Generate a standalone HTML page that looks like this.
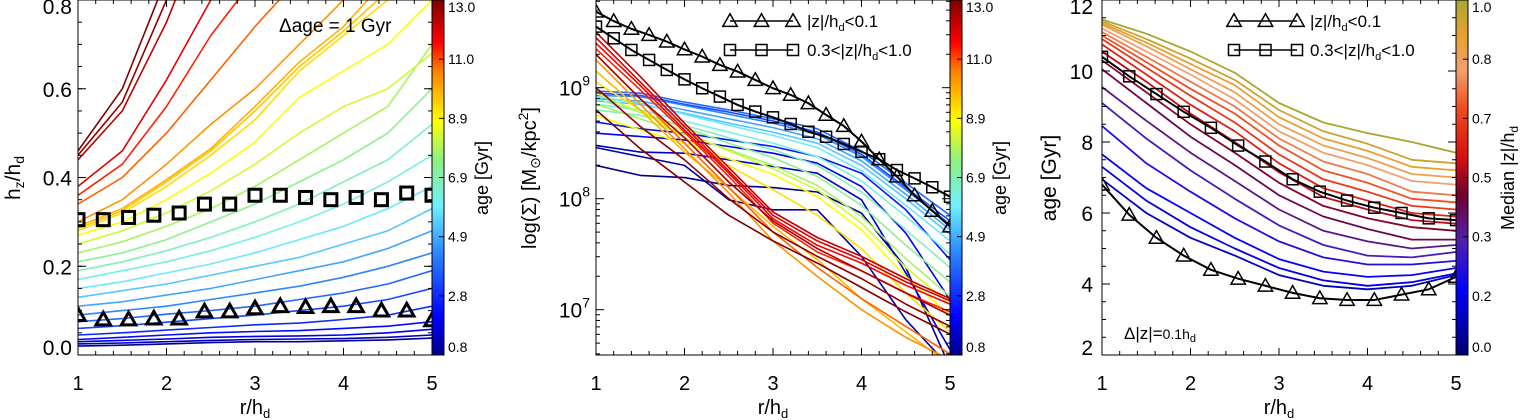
<!DOCTYPE html>
<html><head><meta charset="utf-8"><style>
body{margin:0;background:#fff}
svg{display:block;font-family:"Liberation Sans",sans-serif}
</style></head><body>
<svg id="fig" width="1535" height="420" viewBox="0 0 1535 420" xmlns="http://www.w3.org/2000/svg">
<defs>
<linearGradient id="jet" x1="0" y1="1" x2="0" y2="0">
<stop offset="0" stop-color="#00008f"/><stop offset="0.11" stop-color="#0000ff"/><stop offset="0.3" stop-color="#3090ff"/><stop offset="0.42" stop-color="#70f0ff"/><stop offset="0.55" stop-color="#90f080"/><stop offset="0.66" stop-color="#ffff00"/><stop offset="0.8" stop-color="#ff8000"/><stop offset="0.88" stop-color="#ff0000"/><stop offset="1" stop-color="#800000"/>
</linearGradient>
<linearGradient id="zmap" x1="0" y1="1" x2="0" y2="0">
<stop offset="0" stop-color="#000070"/><stop offset="0.18" stop-color="#0000ff"/><stop offset="0.32" stop-color="#5020b0"/><stop offset="0.45" stop-color="#700030"/><stop offset="0.56" stop-color="#d81010"/><stop offset="0.7" stop-color="#ee5020"/><stop offset="0.8" stop-color="#f0a070"/><stop offset="0.9" stop-color="#e8a030"/><stop offset="1" stop-color="#a8a830"/>
</linearGradient>
<clipPath id="c1"><rect x="78" y="0" width="354" height="355"/></clipPath>
<clipPath id="c2"><rect x="596" y="0" width="354" height="355"/></clipPath>
<clipPath id="c3"><rect x="1102" y="0" width="354" height="355"/></clipPath>
</defs>
</svg>
<script>
// ---------- data ----------
const rGrid = [1,1.5,2,2.5,3,3.5,4,4.5,5];
const markerR = [1,1.2857,1.5714,1.8571,2.1429,2.4286,2.7143,3,3.2857,3.5714,3.8571,4.1429,4.4286,4.7143,5];
const p1Ages = [0.8,1.3,1.8,2.3,2.8,3.3,3.8,4.3,4.8,5.3,5.8,6.3,6.8,7.3,7.8,8.3,8.8,9.3,9.6,9.9,10.3,10.8,11.3,11.8,12.3,12.8,13.0];
const p1Vals = [
[0.02,0.022,0.025,0.028,0.03,0.03,0.032,0.034,0.038],
[0.025,0.027,0.03,0.033,0.035,0.036,0.037,0.04,0.045],
[0.03,0.033,0.036,0.04,0.042,0.043,0.045,0.05,0.058],
[0.035,0.04,0.045,0.05,0.053,0.055,0.06,0.065,0.075],
[0.045,0.05,0.056,0.062,0.068,0.072,0.08,0.09,0.11],
[0.06,0.066,0.074,0.082,0.09,0.1,0.11,0.125,0.15],
[0.075,0.082,0.092,0.1,0.11,0.125,0.14,0.16,0.19],
[0.09,0.1,0.11,0.125,0.14,0.155,0.175,0.2,0.23],
[0.11,0.12,0.135,0.15,0.17,0.19,0.21,0.24,0.28],
[0.13,0.145,0.16,0.18,0.2,0.22,0.25,0.28,0.33],
[0.15,0.165,0.185,0.205,0.23,0.26,0.29,0.33,0.38],
[0.17,0.19,0.21,0.235,0.265,0.3,0.34,0.39,0.45],
[0.19,0.21,0.235,0.265,0.3,0.34,0.39,0.44,0.52],
[0.21,0.23,0.26,0.3,0.34,0.39,0.44,0.5,0.6],
[0.23,0.255,0.29,0.33,0.38,0.44,0.5,0.56,0.7],
[0.25,0.28,0.32,0.37,0.43,0.5,0.56,0.6,0.68],
[0.27,0.3,0.35,0.41,0.48,0.58,0.64,0.7,0.8],
[0.28,0.32,0.38,0.45,0.53,0.64,0.72,0.8,0.85],
[0.285,0.325,0.39,0.46,0.55,0.65,0.73,0.82,0.9],
[0.29,0.33,0.395,0.465,0.56,0.66,0.74,0.85,0.95],
[0.3,0.35,0.43,0.52,0.6,0.7,0.8,0.9,1.0],
[0.34,0.4,0.5,0.62,0.74,0.85,1.0,1.0,1.0],
[0.36,0.43,0.56,0.72,0.85,1.0,1.0,1.0,1.0],
[0.38,0.46,0.62,0.8,1.0,1.0,1.0,1.0,1.0],
[0.44,0.55,0.75,1.0,1.0,1.0,1.0,1.0,1.0],
[0.45,0.57,0.8,1.0,1.0,1.0,1.0,1.0,1.0],
[0.46,0.6,0.85,1.0,1.0,1.0,1.0,1.0,1.0]];
const p1Squares = [0.305,0.305,0.31,0.315,0.32,0.34,0.34,0.36,0.36,0.355,0.35,0.355,0.35,0.365,0.36];
const p1Triangles = [0.09,0.08,0.08,0.082,0.082,0.098,0.098,0.105,0.11,0.108,0.11,0.11,0.1,0.1,0.078];
const p2Ages = [0.8,1.1,1.5,2.0,2.5,3.3,3.8,4.3,4.8,5.3,5.8,6.3,6.8,7.3,7.8,8.3,8.8,9.3,9.8,10.3,10.8,11.3,11.6,11.9,12.2,12.5,12.8,13.0];
const p2Vals = [
[8.30,8.21,8.19,8.12,8.10,8.06,7.87,7.38,6.48],
[8.46,8.38,8.30,7.99,7.90,7.90,7.48,6.91,6.48],
[8.48,8.42,8.41,8.35,8.29,8.23,7.99,7.33,6.64],
[8.59,8.56,8.53,8.47,8.41,8.32,8.11,7.69,7.09],
[8.69,8.63,8.59,8.53,8.47,8.38,8.23,7.90,7.45],
[8.95,8.93,8.85,8.78,8.70,8.60,8.40,8.10,7.80],
[8.97,8.95,8.87,8.80,8.72,8.63,8.43,8.14,7.85],
[8.93,8.92,8.84,8.76,8.68,8.58,8.38,8.08,7.77],
[8.90,8.88,8.80,8.72,8.64,8.54,8.34,8.04,7.72],
[8.88,8.85,8.77,8.68,8.60,8.50,8.30,8.00,7.68],
[8.92,8.86,8.76,8.66,8.57,8.46,8.25,7.94,7.62],
[8.85,8.80,8.70,8.60,8.50,8.38,8.16,7.84,7.50],
[8.80,8.75,8.66,8.55,8.44,8.30,8.06,7.72,7.38],
[8.90,8.78,8.64,8.50,8.37,8.20,7.94,7.58,7.25],
[8.85,8.72,8.58,8.44,8.30,8.12,7.84,7.46,7.12],
[8.95,8.78,8.60,8.43,8.27,8.08,7.78,7.38,7.05],
[8.75,8.62,8.50,8.36,8.22,8.02,7.72,7.30,6.95],
[9.05,8.80,8.55,8.30,8.08,7.85,7.55,7.15,6.80],
[9.15,8.80,8.42,8.10,7.75,7.45,7.10,6.80,6.50],
[9.25,8.85,8.45,8.05,7.62,7.30,7.00,6.75,6.55],
[9.30,8.90,8.50,8.10,7.70,7.38,7.10,6.85,6.60],
[9.35,8.98,8.60,8.20,7.78,7.52,7.35,7.15,6.98],
[9.40,9.02,8.62,8.23,7.82,7.58,7.42,7.22,7.05],
[9.45,9.05,8.65,8.25,7.85,7.62,7.45,7.25,7.08],
[9.50,9.10,8.68,8.28,7.88,7.65,7.48,7.28,7.10],
[9.30,8.90,8.55,8.15,7.80,7.55,7.35,7.15,6.95],
[9.00,8.65,8.35,8.00,7.70,7.48,7.28,7.05,6.85],
[8.80,8.45,8.15,7.85,7.62,7.42,7.20,6.98,6.78]];
const p2MarkR = [1,1.2,1.4,1.6,1.8,2,2.2,2.4,2.6,2.8,3,3.2,3.4,3.6,3.8,4,4.2,4.4,4.6,4.8,5];
const p2Triangles = [9.685,9.60,9.53,9.475,9.415,9.345,9.28,9.205,9.145,9.07,8.995,8.935,8.86,8.755,8.655,8.515,8.355,8.2,8.03,7.89,7.75];
const p2Squares = [9.55,9.445,9.34,9.25,9.16,9.075,8.995,8.92,8.845,8.785,8.733,8.673,8.603,8.558,8.493,8.423,8.355,8.258,8.183,8.103,8.018];
const p3Z = [1.0,0.95,0.9,0.85,0.8,0.75,0.7,0.65,0.6,0.53,0.47,0.42,0.36,0.3,0.24,0.19,0.14,0.1];
const p3Vals = [
[11.45,11.05,10.55,9.95,9.1,8.55,8.25,8.0,7.7],
[11.4,10.9,10.35,9.75,8.9,8.3,7.95,7.5,7.4],
[11.35,10.8,10.2,9.6,8.7,8.1,7.75,7.3,7.2],
[11.3,10.7,10.05,9.4,8.5,7.9,7.55,7.1,7.0],
[11.2,10.55,9.9,9.2,8.3,7.7,7.35,6.9,6.8],
[11.1,10.4,9.7,9.0,8.1,7.45,7.1,6.6,6.5],
[11.0,10.25,9.5,8.8,7.9,7.2,6.85,6.4,6.3],
[10.9,10.1,9.3,8.55,7.65,6.95,6.6,6.2,6.1],
[10.75,9.9,9.05,8.3,7.4,6.7,6.35,6.0,5.9],
[10.55,9.7,8.8,8.0,7.15,6.45,6.1,5.8,5.7],
[10.3,9.4,8.5,7.7,6.85,6.2,5.85,5.6,5.5],
[10.05,9.1,8.15,7.35,6.5,5.9,5.55,5.25,5.25],
[9.55,8.6,7.7,6.9,6.1,5.5,5.2,5.0,5.1],
[9.1,8.1,7.2,6.4,5.65,5.1,4.8,4.75,4.9],
[8.45,7.4,6.6,5.85,5.2,4.75,4.55,4.55,4.65],
[7.65,6.7,6.0,5.3,4.7,4.35,4.2,4.25,4.45],
[7.3,6.35,5.6,5.0,4.45,4.1,3.95,4.05,4.3],
[6.95,6.0,5.3,4.8,4.25,3.95,3.85,3.95,4.25]];
const p3MarkR = [1,1.3077,1.6154,1.9231,2.2308,2.5385,2.8462,3.1538,3.4615,3.7692,4.0769,4.3846,4.6923,5];
const p3Triangles = [6.8,5.95,5.3,4.8,4.4,4.15,3.95,3.75,3.6,3.55,3.55,3.7,3.85,4.2];
const p3Squares = [10.4,9.85,9.35,8.85,8.4,7.9,7.45,6.95,6.6,6.35,6.15,6.0,5.85,5.8];

// ---------- helpers ----------
const svg = document.getElementById('fig');
const NS = 'http://www.w3.org/2000/svg';
function mk(tag, attrs, parent){const e=document.createElementNS(NS,tag);for(const k in attrs)e.setAttribute(k,attrs[k]);(parent||svg).appendChild(e);return e;}
function lerpHex(a,b,t){const pa=[1,3,5].map(i=>parseInt(a.substr(i,2),16)),pb=[1,3,5].map(i=>parseInt(b.substr(i,2),16));return 'rgb('+pa.map((v,i)=>Math.round(v+(pb[i]-v)*t)).join(',')+')';}
function cmap(stops,t){t=Math.max(0,Math.min(1,t));for(let i=1;i<stops.length;i++){if(t<=stops[i][0]){const s=stops[i-1],e=stops[i];return lerpHex(s[1],e[1],(t-s[0])/(e[0]-s[0]));}}return stops[stops.length-1][1];}
const jetStops=[[0,'#00008f'],[0.11,'#0000ff'],[0.3,'#3090ff'],[0.42,'#70f0ff'],[0.55,'#90f080'],[0.66,'#ffff00'],[0.8,'#ff8000'],[0.88,'#ff0000'],[1,'#800000']];
const zStops=[[0,'#000070'],[0.18,'#0000ff'],[0.32,'#5020b0'],[0.45,'#700030'],[0.56,'#d81010'],[0.7,'#ee5020'],[0.8,'#f0a070'],[0.9,'#e8a030'],[1,'#a8a830']];
function xs(x0){return r=>x0+(r-1)/4*354;}

function axesFrame(x0, yTicks, yMinor, yS, labelFmt, namePrefix){
  const g=mk('g',{});
  
  
  const X=xs(x0);
  for(let v=1;v<=5.0001;v+=0.2){const px=X(v);const major=Math.abs(v-Math.round(v))<1e-6;const L=major?7:4;
    mk('line',{x1:px,y1:355,x2:px,y2:355-L,stroke:'#000','stroke-width':1},g);
    mk('line',{x1:px,y1:0,x2:px,y2:L,stroke:'#000','stroke-width':1},g);}
  [1,2,3,4,5].forEach(v=>{const t=mk('text',{x:X(v),y:390,'font-size':20,'text-anchor':'middle'},g);t.textContent=v;
    
    });
  yMinor.forEach(v=>{const py=yS(v);if(py<-0.5||py>355.5)return;
    mk('line',{x1:x0,y1:py,x2:x0+4,y2:py,stroke:'#000','stroke-width':1},g);
    mk('line',{x1:x0+354,y1:py,x2:x0+350,y2:py,stroke:'#000','stroke-width':1},g);});
  yTicks.forEach(v=>{const py=yS(v);
    mk('line',{x1:x0,y1:py,x2:x0+8,y2:py,stroke:'#000','stroke-width':1},g);
    mk('line',{x1:x0+354,y1:py,x2:x0+346,y2:py,stroke:'#000','stroke-width':1},g);
    labelFmt(v,py,g);});
  const xt=mk('text',{x:x0+177,y:414,'font-size':20,'text-anchor':'middle'},g);
  xt.innerHTML='r/h<tspan font-size="13" dy="4">d</tspan>';
  
  
}
function lineSet(clip, X, Y, xsArr, series, colors, width, name){
  const g=mk('g',{'clip-path':'url(#'+clip+')'});
  
  
  series.forEach((vals,i)=>{const pts=vals.map((v,j)=>X(xsArr[j]).toFixed(1)+','+Y(v).toFixed(1)).join(' ');
    const pl=mk('polyline',{points:pts,fill:'none',stroke:colors[i],'stroke-width':width,'stroke-linejoin':'round'},g);
    
    });
  return g;
}
function markers(clip, X, Y, xsArr, vals, shape, size, sw, connect, name){
  const g=mk('g',{'clip-path':'url(#'+clip+')'});
  
  
  if(connect) mk('polyline',{points:vals.map((v,j)=>X(xsArr[j])+','+Y(v)).join(' '),fill:'none',stroke:'#000','stroke-width':2},g);
  vals.forEach((v,j)=>{drawMarker(g,X(xsArr[j]),Y(v),shape,size,sw);});
}
function drawMarker(g,cx,cy,shape,size,sw){
  let m;
  if(shape==='sq') m=mk('rect',{x:cx-size/2,y:cy-size/2,width:size,height:size,fill:'none',stroke:'#000','stroke-width':sw},g);
  else m=mk('polygon',{points:`${cx},${cy-size*0.6} ${cx-size*0.6},${cy+size*0.45} ${cx+size*0.6},${cy+size*0.45}`,fill:'none',stroke:'#000','stroke-width':sw},g);
  
  
}
function colorbar(x, grad, labels, title, name, titleX){
  const g=mk('g',{});
  
  
  mk('rect',{x:x,y:0,width:12,height:355,fill:'url(#'+grad+')',stroke:'#000','stroke-width':1},g);
  labels.forEach((lab,i)=>{const py=355-i*(355/(labels.length-1));
    mk('line',{x1:x+12,y1:py,x2:x+7,y2:py,stroke:'#000','stroke-width':1},g);
    const t=mk('text',{x:x+16,y:Math.min(352,Math.max(12,py+5)),'font-size':14},g);t.textContent=lab;
    
    });
  const tt=mk('text',{x:titleX,y:178,'font-size':18,'text-anchor':'middle',transform:`rotate(-90 ${titleX} 178)`},g);
  tt.innerHTML=title;
  
  
}
function legend(xa,xb,xt,name){
  const g=mk('g',{});
  
  
  [[21,'tri','|z|/h<tspan font-size="11" dy="4">d</tspan><tspan dy="-4">&lt;0.1</tspan>'],[50,'sq','0.3&lt;|z|/h<tspan font-size="11" dy="4">d</tspan><tspan dy="-4">&lt;1.0</tspan>']].forEach(([y,sh,txt])=>{
    mk('line',{x1:xa,y1:y,x2:xb,y2:y,stroke:'#000','stroke-width':1.5},g);
    [xa,(xa+xb)/2,xb].forEach(x=>drawMarker(g,x,y,sh,sh==='sq'?11:12,1.5));
    const t=mk('text',{x:xt,y:y+6,'font-size':17},g);t.innerHTML=txt;
    
    
  });
}

// ---------- panel 1 ----------
{
const X=xs(78), Y=v=>355-v/0.8*355;
const cols=p1Ages.map(a=>cmap(jetStops,(a-0.8)/12.2));
lineSet('c1',X,Y,rGrid,p1Vals,cols,1.6,'p1-age-lines');
markers('c1',X,Y,markerR,p1Squares,'sq',12,3,false,'p1-squares');
markers('c1',X,Y,markerR,p1Triangles,'tri',12,3,false,'p1-triangles');
const yt=[0,0.2,0.4,0.6,0.8], ym=[];for(let v=0;v<=0.8001;v+=0.05)ym.push(v);
axesFrame(78,yt,ym,Y,(v,py,g)=>{const t=mk('text',{x:72,y:Math.min(355,Math.max(14,py+8)),'font-size':21,'text-anchor':'end'},g);t.textContent=v.toFixed(1);
  
  },'p1');
mk('rect',{x:78,y:0,width:354,height:355,fill:'none',stroke:'#000','stroke-width':1});
const yl=mk('text',{x:20,y:178,'font-size':21,'text-anchor':'middle',transform:'rotate(-90 20 178)'});
yl.innerHTML='h<tspan font-size="14" dy="4">z</tspan><tspan dy="-4">/h</tspan><tspan font-size="14" dy="4">d</tspan>';


const an=mk('text',{x:279,y:32,'font-size':19});an.textContent='Δage = 1  Gyr';


colorbar(432,'jet',['0.8','2.8','4.9','6.9','8.9','11.0','13.0'],'age [Gyr]','p1-colorbar',488);
}
// ---------- panel 2 ----------
{
const X=xs(596), Y=v=>(9.79-v)*111;
const cols=p2Ages.map(a=>cmap(jetStops,(a-0.8)/12.2));
lineSet('c2',X,Y,rGrid,p2Vals,cols,1.6,'p2-age-lines');
markers('c2',X,Y,p2MarkR,p2Squares,'sq',11,1.5,true,'p2-squares');
markers('c2',X,Y,p2MarkR,p2Triangles,'tri',12,1.5,true,'p2-triangles');
const yt=[7,8,9], ym=[];for(let d=6;d<=9;d++)for(let k=2;k<=9;k++)ym.push(d+Math.log10(k));
axesFrame(596,yt,ym,Y,(v,py,g)=>{const t=mk('text',{x:590,y:py+8,'font-size':21,'text-anchor':'end'},g);
  t.innerHTML='10<tspan font-size="14" dy="-10">'+v+'</tspan>';
  
  },'p2');
mk('rect',{x:596,y:0,width:354,height:355,fill:'none',stroke:'#000','stroke-width':1});
const yl=mk('text',{x:536,y:178,'font-size':20,'text-anchor':'middle',transform:'rotate(-90 536 178)'});
yl.innerHTML='log(Σ)  [M<tspan font-size="14" dy="4">⊙</tspan><tspan dy="-4">/kpc</tspan><tspan font-size="14" dy="-8">2</tspan><tspan dy="8">]</tspan>';


colorbar(950,'jet',['0.8','2.8','4.9','6.9','8.9','11.0','13.0'],'age [Gyr]','p2-colorbar',1006);
legend(730,793,807,'p2-legend');
}
// ---------- panel 3 ----------
{
const X=xs(1102), Y=v=>(12-v)*35.5;
const cols=p3Z.map(z=>cmap(zStops,z));
lineSet('c3',X,Y,rGrid,p3Vals,cols,1.8,'p3-z-lines');
markers('c3',X,Y,p3MarkR,p3Squares,'sq',11,1.5,true,'p3-squares');
markers('c3',X,Y,p3MarkR,p3Triangles,'tri',12,1.5,true,'p3-triangles');
const yt=[2,4,6,8,10,12], ym=[];for(let v=2;v<=12.001;v+=0.5)ym.push(v);
axesFrame(1102,yt,ym,Y,(v,py,g)=>{const t=mk('text',{x:1093,y:Math.min(355,Math.max(14,py+8)),'font-size':21,'text-anchor':'end'},g);t.textContent=v;
  
  },'p3');
mk('rect',{x:1102,y:0,width:354,height:355,fill:'none',stroke:'#000','stroke-width':1});
const yl=mk('text',{x:1056,y:178,'font-size':21,'text-anchor':'middle',transform:'rotate(-90 1056 178)'});
yl.textContent='age [Gyr]';


const an=mk('text',{x:1124,y:339,'font-size':17});an.innerHTML='Δ|z|=<tspan font-size="14">0.1h</tspan><tspan font-size="11" dy="3">d</tspan>';


colorbar(1456,'zmap',['0.0','0.2','0.3','0.5','0.7','0.8','1.0'],'Median |z|/h<tspan font-size="12" dy="4">d</tspan>','p3-colorbar',1514);
legend(1234,1297,1310,'p3-legend');
}
</script>
</body></html>
